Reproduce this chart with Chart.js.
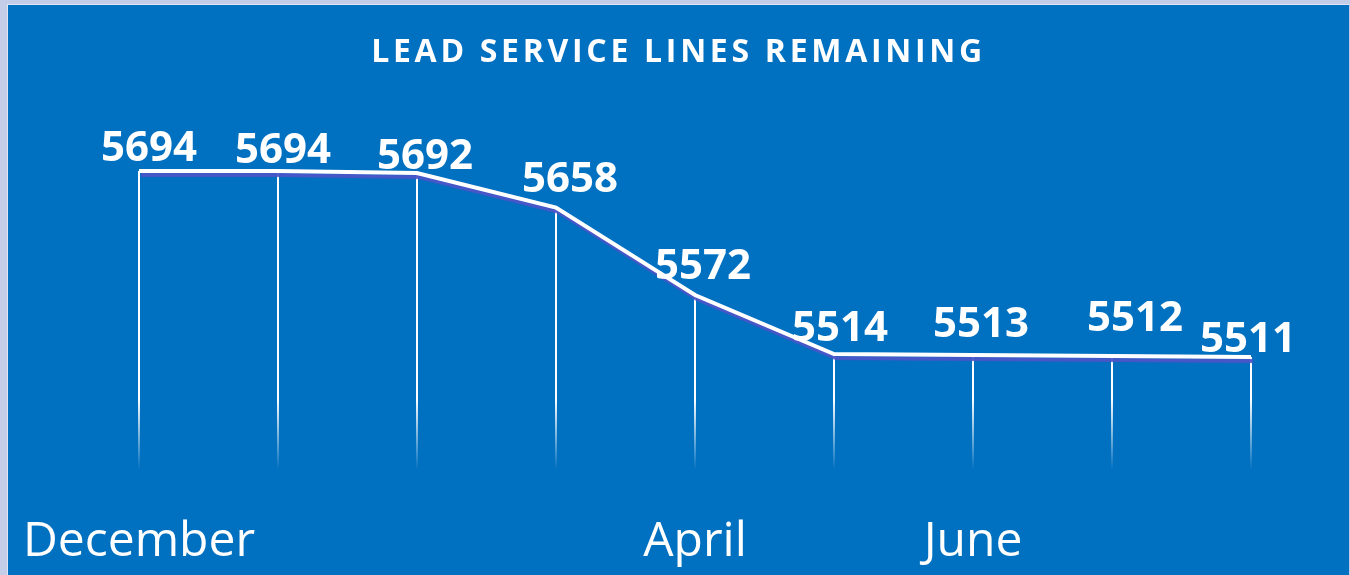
<!DOCTYPE html>
<html>
<head>
<meta charset="utf-8">
<script src="https://cdn.jsdelivr.net/npm/chart.js@4/dist/chart.umd.min.js"></script>
<style>
  html, body { margin: 0; padding: 0; background: #c3cde8; }
  #wrap {
    position: absolute; left: 7px; top: 4px;
    width: 1341px; height: 571px;
    border-top: 1px solid #dfe5f2; border-left: 1px solid #dfe5f2;
    background: #0070c0;
  }
</style>
</head>
<body>
<div id="wrap"><canvas id="myChart" width="1341" height="571"></canvas></div>
<script>
var months = ["December", "", "", "", "April", "", "June", "", ""];
var remaining = [5694, 5694, 5692, 5658, 5572, 5514, 5513, 5512, 5511];
var chartTitle = "LEAD SERVICE LINES REMAINING";

// label nudges (px) so the numbers sit like the original
var labelShift = [[10, -10], [5, -8], [8, -4], [14, -16], [8, -16], [6, -13], [8, -18], [23, -25], [-3, -5]];

var dropLines = {
  id: "dropLines",
  beforeDatasetsDraw: chart => {
    var ctx = chart.ctx;
    var area = chart.chartArea;
    var pts = chart.getDatasetMeta(0).data;
    var grad = ctx.createLinearGradient(0, area.top, 0, area.bottom);
    grad.addColorStop(0, "rgba(255,255,255,1)");
    grad.addColorStop(0.8, "rgba(255,255,255,1)");
    grad.addColorStop(1, "rgba(255,255,255,0)");
    ctx.save();
    ctx.strokeStyle = grad;
    ctx.lineWidth = 2;
    pts.forEach(p => {
      ctx.beginPath();
      ctx.moveTo(Math.round(p.x), p.y);
      ctx.lineTo(Math.round(p.x), area.bottom);
      ctx.stroke();
    });
    ctx.restore();
  },
  beforeDatasetDraw: chart => {
    var ctx = chart.ctx;
    ctx.save();
    ctx.shadowColor = "rgba(75,85,200,0.95)";
    ctx.shadowOffsetX = 2;
    ctx.shadowOffsetY = 4;
    ctx.shadowBlur = 1;
  },
  afterDatasetDraw: chart => {
    chart.ctx.restore();
  }
};

var valueLabels = {
  id: "valueLabels",
  afterDraw: chart => {
    var ctx = chart.ctx;
    var pts = chart.getDatasetMeta(0).data;
    ctx.save();
    ctx.fillStyle = "#ffffff";
    ctx.font = "bold 42px 'Open Sans'";
    ctx.textAlign = "center";
    ctx.textBaseline = "alphabetic";
    pts.forEach((p, i) => {
      ctx.fillText(remaining[i], p.x + labelShift[i][0], p.y + labelShift[i][1]);
    });
    // title with letter spacing
    ctx.font = "bold 32px 'Open Sans'";
    ctx.letterSpacing = "3.7px";
    ctx.fillText(chartTitle, chart.width / 2, 57);
    ctx.restore();
  }
};

var ctx = document.getElementById("myChart");
new Chart(ctx, {
  type: "line",
  data: {
    labels: months,
    datasets: [
      {
        data: remaining,
        borderColor: "#ffffff",
        borderWidth: 4,
        pointRadius: 0,
        tension: 0,
        fill: false
      }
    ]
  },
  options: {
    responsive: false,
    animation: false,
    layout: { padding: { top: 109, left: 131, right: 98, bottom: 6 } },
    plugins: {
      legend: { display: false },
      title: { display: false },
      tooltip: { enabled: false }
    },
    scales: {
      y: { display: false, min: 5400, max: 5750 },
      x: {
        grid: { display: false, drawTicks: false },
        border: { display: false },
        afterFit: scale => {
          scale.height = 100;
          scale.paddingLeft = 0;
          scale.paddingRight = 0;
        },
        ticks: {
          color: "#ffffff",
          font: { family: "'Open Sans'", size: 48 },
          padding: 44,
          autoSkip: false,
          maxRotation: 0
        }
      }
    }
  },
  plugins: [dropLines, valueLabels]
});
</script>
</body>
</html>
